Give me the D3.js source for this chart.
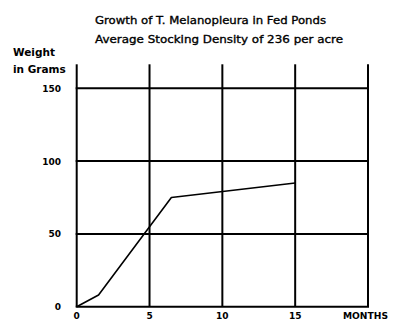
<!DOCTYPE html>
<html><head><meta charset="utf-8">
<script src="https://cdn.jsdelivr.net/npm/d3@7"></script>
<style>html,body{margin:0;padding:0;background:#fff;}</style>
</head><body>
<script>
const months = [0, 1.5, 6.5, 15];
const weights = [0, 8, 75, 85];
const xTicks = [0, 5, 10, 15];
const xGrid = [0, 5, 10, 15, 20];
const yTicks = [0, 50, 100, 150];
const titleLines = ["Growth of T. Melanopleura in Fed  Ponds", "Average Stocking Density of 236 per acre"];
const yLabelLines = ["Weight", "in Grams"];
const xLabel = "MONTHS";

const W = 400, H = 336;
const svg = d3.select("body").append("svg").attr("width", W).attr("height", H);
const x = d3.scaleLinear().domain([0, 20]).range([76.7, 368]);
const y = d3.scaleLinear().domain([0, 150]).range([306.7, 88.3]);
const yTop = y.invert(64.3);
const font = "'DejaVu Sans', sans-serif";

// grid
svg.append("g").selectAll("line").data(xGrid).join("line")
  .attr("x1", d => x(d)).attr("x2", d => x(d))
  .attr("y1", y(yTop)).attr("y2", y(0))
  .attr("stroke", "#000").attr("stroke-width", 2);
svg.append("g").selectAll("line").data(yTicks).join("line")
  .attr("x1", x(0) - 1).attr("x2", x(20) + 1)
  .attr("y1", d => y(d)).attr("y2", d => y(d))
  .attr("stroke", "#000").attr("stroke-width", 2);

// data line
svg.append("path").datum(months.map((m, i) => [m, weights[i]]))
  .attr("d", d3.line().x(d => x(d[0])).y(d => y(d[1])))
  .attr("fill", "none").attr("stroke", "#000").attr("stroke-width", 1.6)
  .attr("stroke-linejoin", "round");

// tick labels
svg.append("g").selectAll("text").data(yTicks).join("text")
  .attr("x", 61).attr("y", d => y(d) + 3.5)
  .attr("text-anchor", "end").attr("font-family", font).attr("font-weight", "bold")
  .attr("font-size", 9).text(d => d);
svg.append("g").selectAll("text").data(xTicks).join("text")
  .attr("x", d => x(d)).attr("y", 319)
  .attr("text-anchor", "middle").attr("font-family", font).attr("font-weight", "bold")
  .attr("font-size", 9).text(d => d);
svg.append("text").attr("x", 343).attr("y", 318.5)
  .attr("font-family", font).attr("font-weight", "bold").attr("font-size", 8.5)
  .attr("textLength", 45).attr("lengthAdjust", "spacingAndGlyphs").text(xLabel);

// y label
svg.append("g").selectAll("text").data(yLabelLines).join("text")
  .attr("x", 13).attr("y", (d, i) => 56 + i * 17)
  .attr("font-family", font).attr("font-weight", "bold").attr("font-size", 10.5)
  .text(d => d);

// title
const tw = [231, 248];
svg.append("g").selectAll("text").data(titleLines).join("text")
  .attr("x", 95).attr("y", (d, i) => 24 + i * 18.5)
  .attr("font-family", font).attr("font-size", 11)
  .attr("stroke", "#000").attr("stroke-width", 0.35)
  .attr("textLength", (d, i) => tw[i]).attr("lengthAdjust", "spacingAndGlyphs")
  .text(d => d);
</script>
</body></html>
